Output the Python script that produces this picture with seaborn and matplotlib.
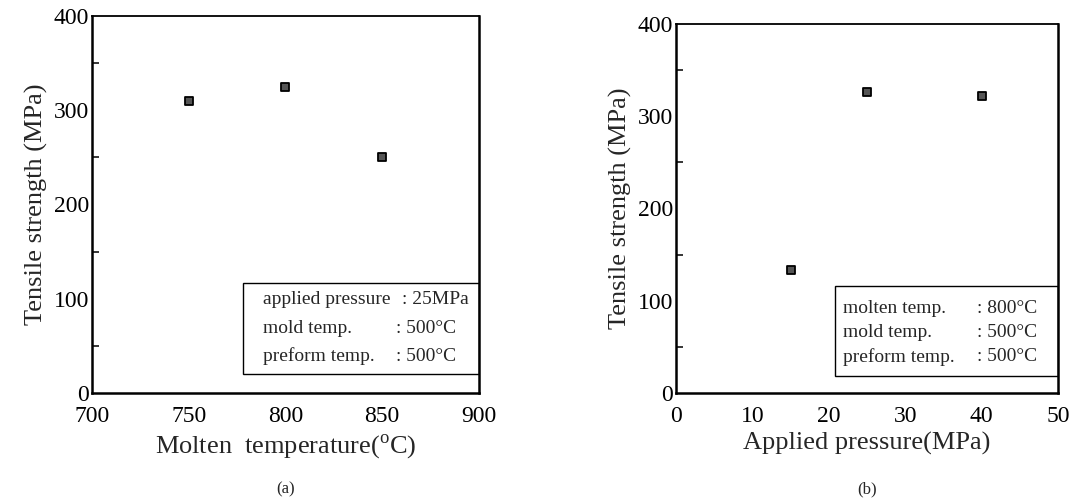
import matplotlib
matplotlib.use("Agg")
import matplotlib.pyplot as plt
from matplotlib.patches import Rectangle
from matplotlib.ticker import MultipleLocator
import seaborn as sns
import pandas as pd

# (a) tensile strength vs molten temperature
molten_temp = [750, 800, 850]
strength_a = [310, 325, 250]

# (b) tensile strength vs applied pressure
pressure = [15, 25, 40]
strength_b = [133, 326, 322]

box_a = [("applied pressure", ": 25MPa"), ("mold temp.", ": 500°C"), ("preform temp.", ": 500°C")]
box_b = [("molten temp.", ": 800°C"), ("mold temp.", ": 500°C"), ("preform temp.", ": 500°C")]

sns.set_style("white")
plt.rcParams['font.family'] = ['Liberation Serif', 'DejaVu Serif']
plt.rcParams['mathtext.fontset'] = 'custom'
plt.rcParams['mathtext.rm'] = 'Liberation Serif'

fig = plt.figure(figsize=(10.71, 5), dpi=100)
fig.patch.set_facecolor('white')

ax1 = fig.add_axes([0.0859, 0.214, 0.3613, 0.754])
ax2 = fig.add_axes([0.6312, 0.214, 0.3567, 0.738])


def style_axis(ax, xlim, xticks):
    ax.set_xlim(*xlim)
    ax.set_ylim(0, 400)
    ax.set_xticks(xticks)
    ax.yaxis.set_major_locator(MultipleLocator(100))
    ax.yaxis.set_minor_locator(MultipleLocator(50))
    ax.tick_params(axis='both', which='major', direction='in', length=7, width=1.3,
                   labelsize=17, colors='black')
    ax.tick_params(axis='y', which='major', pad=2)
    ax.tick_params(axis='y', which='minor', direction='in', length=5, width=1.3, left=True)
    ax.tick_params(axis='x', which='major', length=5, width=1.1, pad=9)
    for s in ax.spines.values():
        s.set_linewidth(1.8)
        s.set_color('black')
    ax.spines['top'].set_linewidth(1.3)


def draw_box(ax, rows, x0, y0, y1, tx, cx, ys):
    ax.add_patch(Rectangle((x0, y0), 1 - x0, y1 - y0, transform=ax.transAxes,
                           fill=False, edgecolor='black', linewidth=1.0, zorder=3))
    for (lab, val), y, c in zip(rows, ys, cx):
        ax.text(tx, y, lab, transform=ax.transAxes, fontsize=14, va='center', ha='left')
        ax.text(c, y, val, transform=ax.transAxes, fontsize=14, va='center', ha='left')


df_a = pd.DataFrame({"x": molten_temp, "y": strength_a})
sns.scatterplot(data=df_a, x="x", y="y", ax=ax1, marker='s', s=40,
                color='#555555', edgecolor='black', linewidth=1.3, zorder=4)
style_axis(ax1, (700, 900), [700, 750, 800, 850, 900])
ax1.set_xlabel(r"Molten  temperature($^{\rm o}$C)", fontsize=19, labelpad=4)
ax1.set_ylabel("Tensile strength (MPa)", fontsize=19, labelpad=4)
draw_box(ax1, box_a, 0.390, 0.050, 0.292, 0.442, [0.800, 0.785, 0.785], [0.247, 0.170, 0.098])
ax1.text(0.5, -0.255, "(a)", transform=ax1.transAxes, ha='center', va='center', fontsize=12)

df_b = pd.DataFrame({"x": pressure, "y": strength_b})
sns.scatterplot(data=df_b, x="x", y="y", ax=ax2, marker='s', s=40,
                color='#555555', edgecolor='black', linewidth=1.3, zorder=4)
style_axis(ax2, (0, 50), [0, 10, 20, 30, 40, 50])
ax2.set_xlabel("Applied pressure(MPa)", fontsize=19, labelpad=4)
ax2.set_ylabel("Tensile strength (MPa)", fontsize=19, labelpad=4)
draw_box(ax2, box_b, 0.416, 0.046, 0.290, 0.437, [0.788, 0.788, 0.788], [0.230, 0.163, 0.098])
ax2.text(0.5, -0.26, "(b)", transform=ax2.transAxes, ha='center', va='center', fontsize=12)

fig.savefig("out.png", dpi=100)
